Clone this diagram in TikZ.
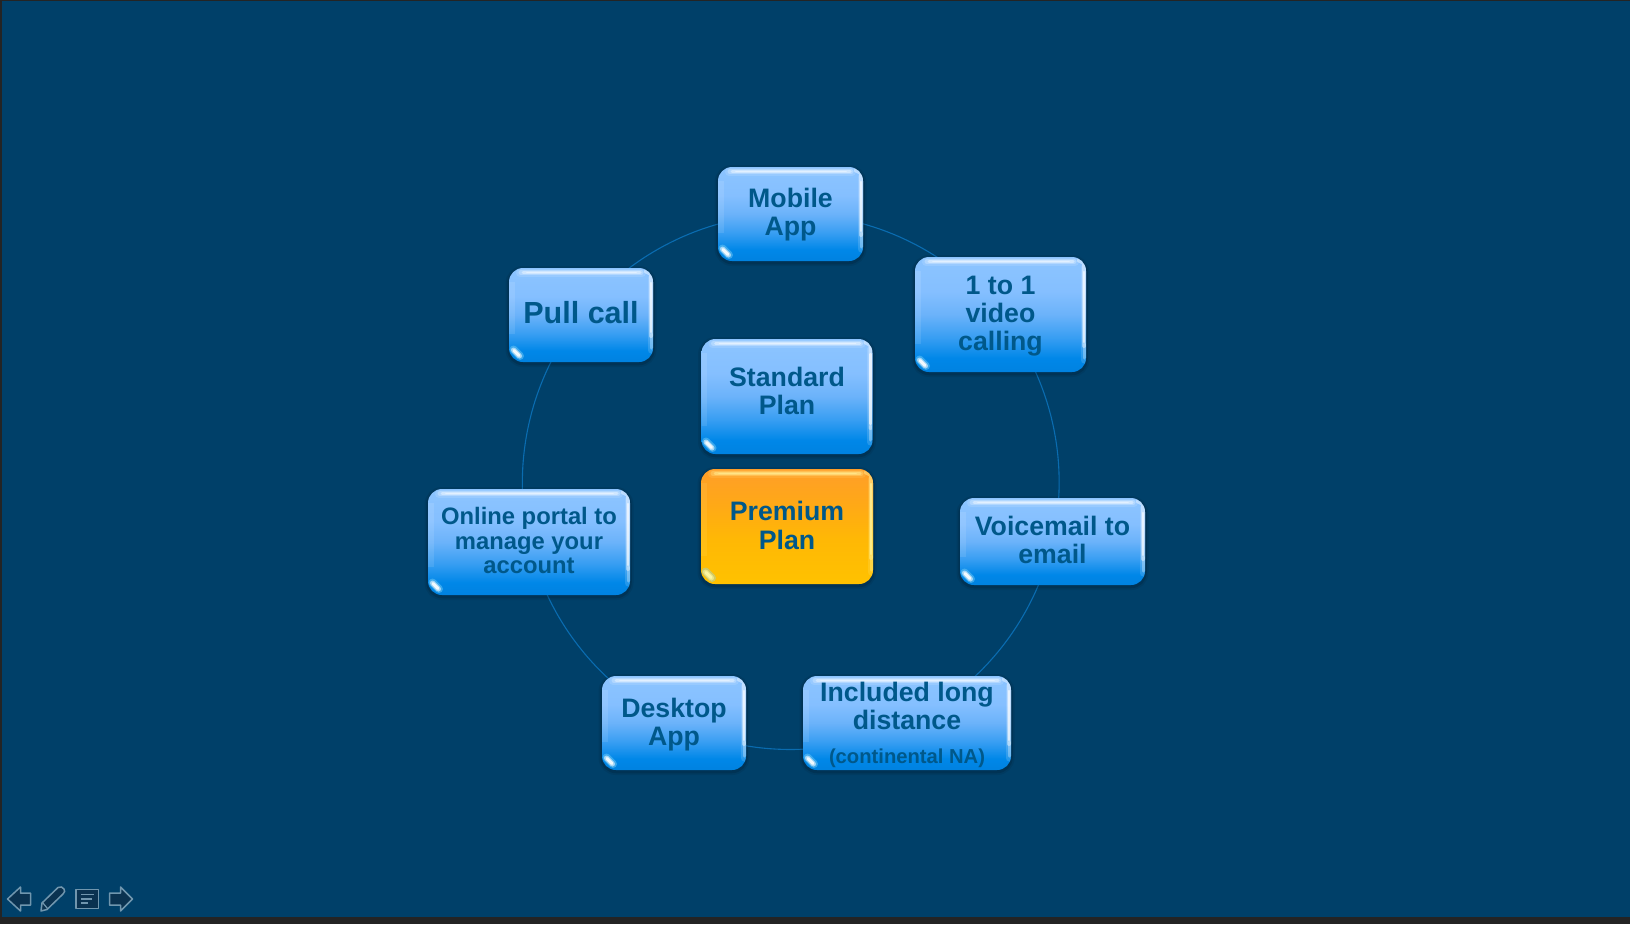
\documentclass[tikz,border=0pt]{standalone}
\usepackage{fontspec}
\setmainfont{Liberation Sans}
\usetikzlibrary{calc}
\pgfdeclarelayer{bg}
\pgfsetlayers{bg,main}
\definecolor{slide}{RGB}{0,64,105}
\definecolor{framec}{RGB}{36,36,36}
\definecolor{ring}{RGB}{10,108,176}
\definecolor{ink}{RGB}{0,88,138}
\definecolor{iconline}{RGB}{112,150,174}
\definecolor{iconfill}{RGB}{10,50,80}
\pgfdeclareverticalshading{blueglass}{100bp}{
 rgb(0bp)=(0,.51,.88); rgb(25bp)=(0,.51,.88); rgb(31bp)=(0,.53,.91);
 rgb(40bp)=(.22,.62,.95); rgb(50bp)=(.42,.70,.98); rgb(60bp)=(.52,.75,1);
 rgb(75bp)=(.55,.77,1); rgb(100bp)=(.55,.77,1)}
\pgfdeclareverticalshading{amberglass}{100bp}{
 rgb(0bp)=(1,.76,0); rgb(25bp)=(1,.76,0); rgb(45bp)=(1,.72,.02);
 rgb(60bp)=(1,.66,.09); rgb(75bp)=(1,.62,.16); rgb(100bp)=(1,.62,.16)}
\newcommand{\txtdown}[1]{\rule{0pt}{\dimexpr 19.5pt+#1\relax}}
\newcommand{\txtup}[1]{\par\vspace{#1}}
\tikzset{
 x=1pt,y=-1pt,
 glass/.style={path picture={
   \coordinate (nw) at (path picture bounding box.north west);
   \coordinate (ne) at (path picture bounding box.north east);
   \coordinate (sw) at (path picture bounding box.south west);
   \coordinate (se) at (path picture bounding box.south east);
   % top band
   \draw[#1,opacity=.12,line width=8pt,line cap=round] ($(nw)+(11,5)$) -- ($(ne)+(-11,5)$);
   \draw[#1,opacity=.25,line width=5pt,line cap=round] ($(nw)+(12,4.5)$) -- ($(ne)+(-12,4.5)$);
   \draw[#1,opacity=.4,line width=3pt,line cap=round] ($(nw)+(14,4.5)$) -- ($(ne)+(-13,4.5)$);
   \draw[#1,opacity=.4,line width=1.6pt,line cap=round] ($(nw)+(18,4.5)$) -- ($(ne)+(-17,4.5)$);
   % right edge
   \draw[#1,opacity=.14,line width=7pt,line cap=round] ($(ne)+(-2,10)$) -- ($(se)+(-2,-12)$);
   \draw[#1,opacity=.4,line width=4pt,line cap=round] ($(ne)+(-7,3.5)$) .. controls ($(ne)+(-3,5)$) and ($(ne)+(-2,8)$) .. ($(ne)+(-2,14)$) -- ($(se)+(-2,-26)$);
   \draw[#1,opacity=.62,line width=2.2pt,line cap=round] ($(ne)+(-2,15)$) -- ($(se)+(-2,-30)$);
   \draw[#1,opacity=.3,line width=3pt,line cap=round] ($(se)+(-2,-28)$) -- ($(se)+(-2,-14)$);
   % left edge
   \draw[#1,opacity=.1,line width=7pt] ($(nw)+(2,14)$) -- ($(sw)+(2,-28)$);
   % corner spot
   \draw[cyan!45!white,opacity=.4,line width=8pt,line cap=round] ($(sw)+(4.5,-12.5)$) -- ($(sw)+(11,-6)$);
   \draw[#1,opacity=.55,line width=5pt,line cap=round] ($(sw)+(4.5,-12)$) -- ($(sw)+(10.5,-6)$);
   \draw[#1,opacity=.85,line width=3pt,line cap=round] ($(sw)+(5,-11.5)$) -- ($(sw)+(10,-6.5)$);
 }},
 planbox/.style={rounded corners=14pt,inner sep=0pt,align=flush center,text width=204pt,text=ink,anchor=center,
   font=\bfseries\fontsize{26.7}{28}\selectfont,
   preaction={draw=black,draw opacity=.07,line width=7pt,transform canvas={yshift=-1.5pt}},
   preaction={draw=black,draw opacity=.12,line width=3.5pt,transform canvas={yshift=-1.5pt}}},
 bluebox/.style={planbox,shading=blueglass,shading angle=0,glass=white},
 amberbox/.style={planbox,shading=amberglass,shading angle=0,glass={yellow!35!white}},
 ringarc/.style={draw=ring,line width=1.1pt,bend left=25.7,looseness=.896},
 iconshape/.style={draw=iconline,fill=iconfill,line width=1.5pt,line join=round},
 iconstroke/.style={draw=iconline,line width=1.2pt},
}
\begin{document}
\begin{tikzpicture}
\useasboundingbox (0,0) rectangle (1630,924);
\begin{pgfonlayer}{bg}
\fill[framec] (0,0) rectangle (1630,924);
\fill[slide] (2,1) rectangle (1630,917);
\end{pgfonlayer}

\node[bluebox,minimum width=145pt,minimum height=94pt,text width=140pt] (mobile) at (790.5,214) {\txtdown{2pt}Mobile\\App};
\node[bluebox,minimum width=171pt,minimum height=115pt,text width=165pt] (video) at (1000.5,314.5) {\txtdown{2pt}1 to 1\\video\\calling};
\node[bluebox,minimum width=185pt,minimum height=87pt,text width=180pt] (voicemail) at (1052.5,541.5) {Voicemail to\\email\txtup{3pt}};
\node[bluebox,minimum width=208pt,minimum height=94pt] (longdist) at (907,723) {\txtdown{3pt}Included long\\distance\\[6pt]{\fontsize{20.2}{22}\selectfont(continental NA)}};
\node[bluebox,minimum width=144pt,minimum height=94pt,text width=140pt] (desktop) at (674,723) {\txtdown{3pt}Desktop\\App};
\node[bluebox,minimum width=202pt,minimum height=106pt,text width=198pt,font=\bfseries\fontsize{23.8}{24.8}\selectfont] (portal) at (529,542) {Online portal to\\manage your\\account\txtup{3pt}};
\node[bluebox,minimum width=144pt,minimum height=94pt,text width=140pt,font=\bfseries\fontsize{30.5}{33}\selectfont] (pull) at (581,315) {Pull call\txtup{4pt}};
\node[bluebox,minimum width=171pt,minimum height=115pt,text width=165pt] (standard) at (787,396.5) {Standard\\Plan\txtup{12pt}};
\node[amberbox,minimum width=172pt,minimum height=115pt,text width=165pt,font=\bfseries\fontsize{26.7}{29}\selectfont] (premium) at (787,526.5) {Premium\\Plan\txtup{2pt}};

\begin{pgfonlayer}{bg}
\draw[ringarc] (mobile.center) to (video.center);
\draw[ringarc] (video.center) to (voicemail.center);
\draw[ringarc] (voicemail.center) to (longdist.center);
\draw[ringarc] (longdist.center) to (desktop.center);
\draw[ringarc] (desktop.center) to (portal.center);
\draw[ringarc] (portal.center) to (pull.center);
\draw[ringarc] (pull.center) to (mobile.center);
\end{pgfonlayer}

% slide-show controls
\path[iconshape] (7.5,899) -- (20.5,887) -- (20.5,893) -- (30.5,893) -- (30.5,905) -- (20.5,905) -- (20.5,911) -- cycle;
\path[iconshape] (41,911) -- (42,903) -- (58,887.5) .. controls (60,886) and (63,887) .. (64,889) .. controls (65,891) and (65,892) .. (63,894) -- (47,909.5) -- cycle;
\draw[iconstroke] (42.5,902.5) -- (47.5,908.5);
\path[iconshape] (76,889.5) rectangle (98.5,908.5);
\draw[iconstroke] (81,894.5) -- (94,894.5) (81,899) -- (92,899) (81,903) -- (88,903);
\path[iconshape] (132.5,899) -- (120.5,887) -- (120.5,893) -- (109.5,893) -- (109.5,905) -- (120.5,905) -- (120.5,911) -- cycle;
\end{tikzpicture}
\end{document}
